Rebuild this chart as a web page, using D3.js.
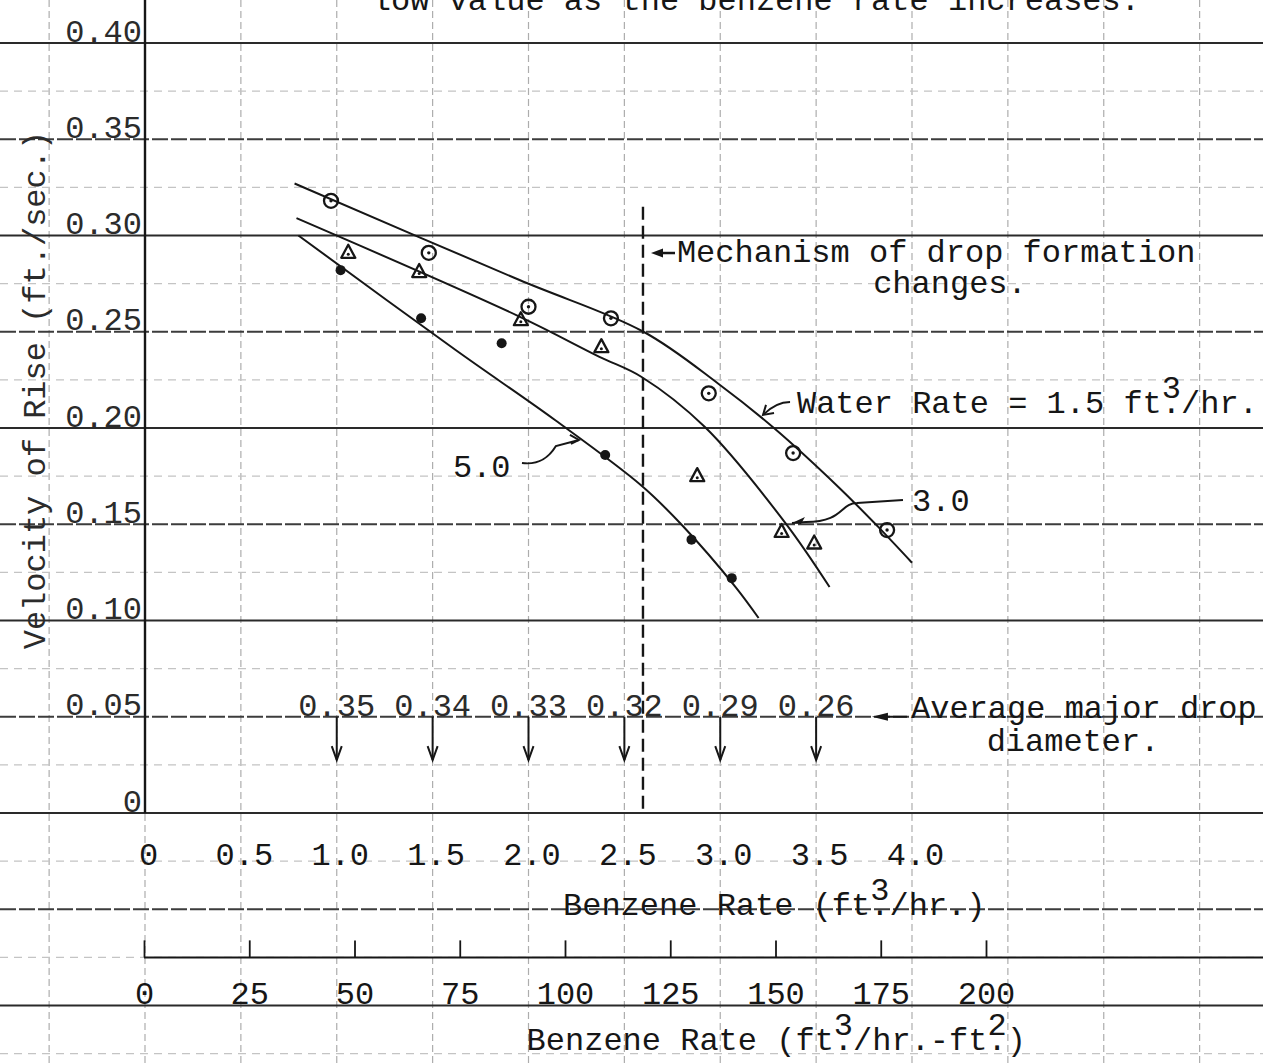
<!DOCTYPE html>
<html><head><meta charset="utf-8">
<script src="https://cdn.jsdelivr.net/npm/d3@7"></script>
<style>html,body{margin:0;padding:0;background:#fff;} svg{display:block;}</style>
</head><body>
<svg id="chart" width="1263" height="1063"></svg>
<script>
// ---------------- data ----------------
// Water rate 1.5 ft3/hr (circles)
const rate15_benzene = [0.97, 1.48, 2.00, 2.43, 2.94, 3.38, 3.87];
const rate15_velocity = [0.318, 0.291, 0.263, 0.257, 0.218, 0.187, 0.147];
// Water rate 3.0 (triangles)
const rate30_benzene = [1.06, 1.43, 1.96, 2.38, 2.88, 3.32, 3.49];
const rate30_velocity = [0.291, 0.281, 0.256, 0.242, 0.175, 0.146, 0.140];
// Water rate 5.0 (solid dots)
const rate50_benzene = [1.02, 1.44, 1.86, 2.40, 2.85, 3.06];
const rate50_velocity = [0.282, 0.257, 0.244, 0.186, 0.142, 0.122];
// hand-drawn fitted curves
const fit15_benzene = [0.78, 1.95, 2.60, 2.99, 3.28, 3.62, 3.82, 4.00];
const fit15_velocity = [0.327, 0.277, 0.250, 0.223, 0.200, 0.169, 0.149, 0.130];
const fit30_benzene = [0.79, 1.95, 2.37, 2.59, 2.92, 3.34, 3.57];
const fit30_velocity = [0.309, 0.258, 0.237, 0.2265, 0.2005, 0.1506, 0.1174];
const fit50_benzene = [0.80, 1.62, 2.14, 2.59, 2.80, 3.08, 3.20];
const fit50_velocity = [0.300, 0.2405, 0.204, 0.170, 0.1496, 0.1174, 0.1013];
// average major drop diameter at benzene rates
const drop_benzene = [1.0, 1.5, 2.0, 2.5, 3.0, 3.5];
const drop_diameter = [0.35, 0.34, 0.33, 0.32, 0.29, 0.26];
// mechanism change
const mechanism_benzene = 2.597;
// tick values
const yTicks = [0, 0.05, 0.10, 0.15, 0.20, 0.25, 0.30, 0.35, 0.40];
const xTicks = [0, 0.5, 1.0, 1.5, 2.0, 2.5, 3.0, 3.5, 4.0];
const x2Ticks = [0, 25, 50, 75, 100, 125, 150, 175, 200];

// ---------------- setup ----------------
const W = 1263, H = 1063;
const FONT = "'Liberation Mono','Courier New',monospace";
const FS = 32, CW = FS * 0.6;
const INK = "#161616";
const svg = d3.select("#chart");
svg.append("rect").attr("width", W).attr("height", H).attr("fill", "#fff");

const x = d3.scaleLinear().domain([0, 4]).range([145, 912]);
const y = d3.scaleLinear().domain([0, 0.4]).range([813, 43]);
const x2 = d3.scaleLinear().domain([0, 200]).range([144, 986]);

// ---------------- graph paper ----------------
const grid = svg.append("g");
d3.range(-1, 13).forEach(k => {
  const b = k * 0.5;
  grid.append("line").attr("x1", x(b)).attr("x2", x(b)).attr("y1", 0).attr("y2", H)
    .attr("stroke", "#adadad").attr("stroke-width", 1.2).attr("stroke-dasharray", "7,4");
});
d3.range(-3, 9).forEach(k => {
  const v = (2 * k + 1) * 0.025;
  grid.append("line").attr("x1", 0).attr("x2", W).attr("y1", y(v)).attr("y2", y(v))
    .attr("stroke", "#c4c4c4").attr("stroke-width", 1.1).attr("stroke-dasharray", "8,6");
});
d3.range(-2, 9).forEach(k => {
  const v = k * 0.05;
  const even = (k % 2 === 0);
  grid.append("line").attr("x1", 0).attr("x2", W).attr("y1", y(v)).attr("y2", y(v))
    .attr("stroke", even ? "#2a2a2a" : "#3c3c3c")
    .attr("stroke-width", even ? 2.2 : 1.9)
    .attr("stroke-dasharray", even ? null : "16,3");
});
svg.append("line").attr("x1", x(0)).attr("x2", x(0)).attr("y1", 0).attr("y2", y(0))
  .attr("stroke", INK).attr("stroke-width", 2.4);

// ---------------- axes ----------------
const yAxis = svg.append("g").attr("transform", `translate(${x(0)},0)`)
  .call(d3.axisLeft(y).tickValues(yTicks).tickSize(0).tickPadding(3)
    .tickFormat(d => d === 0 ? "0" : d3.format(".2f")(d)));
yAxis.select(".domain").remove();
yAxis.selectAll("text").attr("dy", "-0.06em").attr("font-family", FONT).attr("font-size", FS)
  .attr("fill", "#2b2b2b");

const xAxis = svg.append("g").attr("transform", `translate(0,${y(0)})`)
  .call(d3.axisBottom(x).tickValues(xTicks).tickSize(0).tickPadding(29)
    .tickFormat(d => d === 0 ? "0" : d3.format(".1f")(d)));
xAxis.select(".domain").remove();
xAxis.selectAll("text").attr("dx", 3).attr("font-family", FONT).attr("font-size", FS).attr("fill", INK);

const a2y = y(-0.075);
svg.append("line").attr("x1", x2(0)).attr("x2", W).attr("y1", a2y).attr("y2", a2y)
  .attr("stroke", INK).attr("stroke-width", 2);
const x2Axis = svg.append("g").attr("transform", `translate(0,${a2y})`)
  .call(d3.axisBottom(x2).tickValues(x2Ticks).tickSizeInner(-17).tickSizeOuter(0).tickPadding(24)
    .tickFormat(d3.format("d")));
x2Axis.select(".domain").remove();
x2Axis.selectAll("line").attr("stroke", INK).attr("stroke-width", 1.8);
x2Axis.selectAll("text").attr("font-family", FONT).attr("font-size", FS).attr("fill", INK);

// ---------------- typed text helper (superscripts typed over a period) ----------------
function typed(str, x0, yb, opts = {}) {
  const t = svg.append("text").attr("x", x0).attr("y", yb)
    .attr("font-family", FONT).attr("font-size", FS).attr("fill", opts.fill || INK)
    .attr("text-anchor", opts.anchor || "start");
  const sups = (opts.sups || []).slice().sort((a, b) => a.col - b.col);
  let pos = 0;
  sups.forEach(s => {
    t.append("tspan").text(str.slice(pos, s.col));
    t.append("tspan").attr("dy", -15).text(s.ch);
    t.append("tspan").attr("dy", 15).attr("dx", -CW).text(str[s.col]);
    pos = s.col + 1;
  });
  t.append("tspan").text(str.slice(pos));
  return t;
}

// axis titles
typed("Benzene Rate (ft./hr.)", x(2.18), y(-0.053), {sups: [{col: 16, ch: "3"}]});
typed("Benzene Rate (ft./hr.-ft.)", x(1.99), y(-0.1232), {sups: [{col: 16, ch: "3"}, {col: 24, ch: "2"}]});
svg.append("text").attr("transform", `translate(${x(-0.52)},${y(0.2197)}) rotate(-90)`)
  .attr("text-anchor", "middle").attr("font-family", FONT).attr("font-size", FS)
  .attr("fill", "#2b2b2b").text("Velocity of Rise (ft./sec.)");

// top caption (cut off at the top of the page)
typed("low value as the benzene rate increases.", x(1.183), y(0.4171));

// ---------------- mechanism dashed line ----------------
svg.append("line").attr("x1", x(mechanism_benzene)).attr("x2", x(mechanism_benzene))
  .attr("y1", y(0.315)).attr("y2", y(0))
  .attr("stroke", INK).attr("stroke-width", 2.4).attr("stroke-dasharray", "13,6");
{
  const ay = y(0.2909), ax0 = x(2.639), ax1 = x(2.764);
  svg.append("line").attr("x1", ax0 + 8).attr("x2", ax1).attr("y1", ay).attr("y2", ay)
    .attr("stroke", INK).attr("stroke-width", 2.5);
  svg.append("path").attr("d", `M${ax0},${ay} L${ax0 + 12},${ay - 4.5} L${ax0 + 12},${ay + 4.5} Z`).attr("fill", INK);
}
typed("Mechanism of drop formation", x(2.774), y(0.2862));
typed("changes.", x(4.198), y(0.2701), {anchor: "middle"});

// ---------------- fitted curves ----------------
const lineGen = d3.line().x(d => x(d[0])).y(d => y(d[1])).curve(d3.curveCatmullRom.alpha(0.5));
[[fit15_benzene, fit15_velocity], [fit30_benzene, fit30_velocity], [fit50_benzene, fit50_velocity]]
  .forEach(([bx, vy]) => {
    svg.append("path").datum(d3.zip(bx, vy)).attr("d", lineGen)
      .attr("fill", "none").attr("stroke", INK).attr("stroke-width", 2);
  });

// ---------------- data points ----------------
const pts = svg.append("g");
d3.zip(rate15_benzene, rate15_velocity).forEach(([b, v]) => {
  pts.append("circle").attr("cx", x(b)).attr("cy", y(v)).attr("r", 7)
    .attr("fill", "none").attr("stroke", INK).attr("stroke-width", 2.3);
  pts.append("circle").attr("cx", x(b)).attr("cy", y(v)).attr("r", 1.7).attr("fill", INK);
});
d3.zip(rate30_benzene, rate30_velocity).forEach(([b, v]) => {
  const cx = x(b), cy = y(v);
  pts.append("path").attr("d", `M${cx},${cy - 8} L${cx + 7},${cy + 5} L${cx - 7},${cy + 5} Z`)
    .attr("fill", "none").attr("stroke", INK).attr("stroke-width", 2.3).attr("stroke-linejoin", "round");
  pts.append("circle").attr("cx", cx).attr("cy", cy + 1.5).attr("r", 1.5).attr("fill", INK);
});
d3.zip(rate50_benzene, rate50_velocity).forEach(([b, v]) => {
  pts.append("circle").attr("cx", x(b)).attr("cy", y(v)).attr("r", 5).attr("fill", INK);
});

// ---------------- curve labels ----------------
const ann = svg.append("g").attr("fill", "none").attr("stroke", INK).attr("stroke-width", 2);
typed("Water Rate = 1.5 ft./hr.", x(3.40), y(0.2078), {sups: [{col: 19, ch: "3"}]});
{
  const tx = x(3.223), ty = y(0.2068), sx = x(3.364), sy = y(0.2135);
  ann.append("path").attr("d", `M${sx},${sy} Q${sx - 14},${sy} ${tx},${ty}`);
  ann.append("path").attr("d", `M${tx + 3},${ty - 10} L${tx},${ty} L${tx + 11},${ty - 2}`);
}
typed("3.0", x(4.0), y(0.1569));
{
  const p = [[3.953, 0.1626], [3.713, 0.161], [3.624, 0.1538], [3.374, 0.1506]].map(d => [x(d[0]), y(d[1])]);
  ann.append("path").attr("d", `M${p[0][0]},${p[0][1]} L${p[1][0]},${p[1][1]} C${p[2][0]},${p[1][1]} ${p[2][0] + 4},${p[2][1] + 5} ${p[3][0] + 14},${p[3][1] - 1} L${p[3][0]},${p[3][1]}`);
  svg.append("path").attr("d", `M${p[3][0]},${p[3][1]} L${p[3][0] + 13},${p[3][1] - 6} L${p[3][0] + 9},${p[3][1] + 1} Z`).attr("fill", INK);
}
typed("5.0", x(1.606), y(0.1745));
{
  const p = [[1.966, 0.1818], [2.102, 0.1839], [2.143, 0.1906], [2.263, 0.1938]].map(d => [x(d[0]), y(d[1])]);
  ann.append("path").attr("d", `M${p[0][0]},${p[0][1]} C${p[1][0] - 10},${p[0][1] + 2} ${p[1][0]},${p[1][1]} ${p[2][0]},${p[2][1]} L${p[3][0]},${p[3][1]}`);
  ann.append("path").attr("d", `M${p[3][0] - 9},${p[3][1] - 5} L${p[3][0]},${p[3][1]} L${p[3][0] - 8},${p[3][1] + 4}`);
}

// ---------------- drop diameters ----------------
d3.zip(drop_benzene, drop_diameter).forEach(([b, dd]) => {
  const cx = x(b), y0 = y(0.05), y1 = y(0.0275);
  svg.append("text").attr("x", cx).attr("y", y0 - 1).attr("text-anchor", "middle")
    .attr("font-family", FONT).attr("font-size", FS).attr("fill", "#2b2b2b").text(d3.format(".2f")(dd));
  ann.append("line").attr("x1", cx).attr("x2", cx).attr("y1", y0).attr("y2", y1);
  ann.append("path").attr("d", `M${cx - 5},${y1 - 14} L${cx},${y1} L${cx + 5},${y1 - 14}`);
});
{
  const ay = y(0.05), tip = x(3.791), tail = x(3.974);
  ann.append("line").attr("x1", tip + 8).attr("x2", tail).attr("y1", ay).attr("y2", ay);
  svg.append("path").attr("d", `M${tip},${ay} L${tip + 16},${ay - 4} L${tip + 16},${ay + 4} Z`).attr("fill", INK);
}
typed("Average major drop", x(3.995), y(0.0494));
typed("diameter.", x(4.84), y(0.0322), {anchor: "middle"});
</script>
</body></html>
